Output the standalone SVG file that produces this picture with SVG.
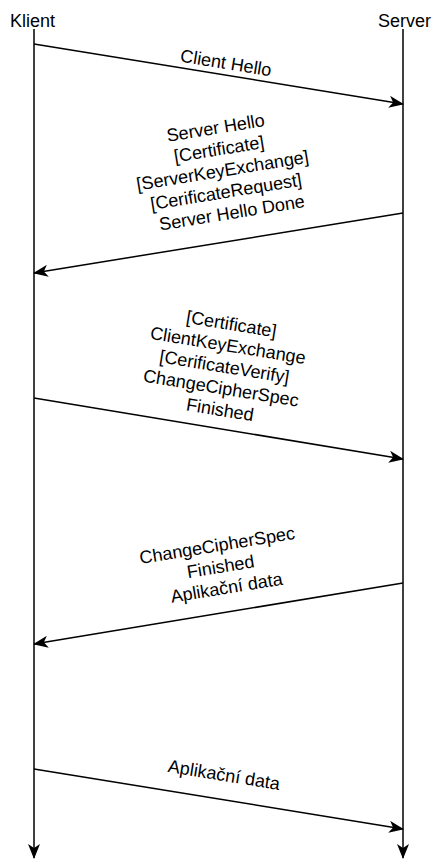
<svg xmlns="http://www.w3.org/2000/svg" width="432" height="859" viewBox="0 0 432 859">
<style>
.lbl{font-family:"Liberation Sans",Arial,Helvetica,sans-serif;font-size:18px;fill:#000}
.mid{text-anchor:middle}
.ln{stroke:#000;stroke-width:1.5;fill:none}
</style>
<defs>
<marker id="ah" markerUnits="userSpaceOnUse" markerWidth="15" markerHeight="12" viewBox="0 0 15 12" refX="14" refY="6" orient="auto">
<path d="M0,0 L15,6 L0,12 L4,6 z" fill="#000"/>
</marker>
</defs>
<rect width="432" height="859" fill="#fff"/>
<g id="klient">
<text class="lbl" x="10" y="27">Klient</text>
</g>
<g id="server">
<text class="lbl" x="431" y="27" text-anchor="end">Server</text>
</g>
<g id="connectors">
<line class="ln" x1="34" y1="29" x2="34" y2="858" marker-end="url(#ah)"/>
<line class="ln" x1="403" y1="29" x2="403" y2="858" marker-end="url(#ah)"/>
<line class="ln" x1="34" y1="44" x2="403" y2="104" marker-end="url(#ah)"/>
<line class="ln" x1="403" y1="213" x2="34" y2="273" marker-end="url(#ah)"/>
<line class="ln" x1="34" y1="398" x2="403" y2="459" marker-end="url(#ah)"/>
<line class="ln" x1="403" y1="583" x2="34" y2="644" marker-end="url(#ah)"/>
<line class="ln" x1="34" y1="769" x2="403" y2="829" marker-end="url(#ah)"/>
</g>
<g id="label1">
<text class="lbl mid" transform="rotate(9.24 226 63)" x="226" y="69">Client Hello</text>
</g>
<g id="label2">
<text class="lbl mid" transform="rotate(-9.24 225 170)">
<tspan x="225" y="133">Server Hello</tspan>
<tspan x="225" y="154.6">[Certificate]</tspan>
<tspan x="225" y="176.2">[ServerKeyExchange]</tspan>
<tspan x="225" y="197.8">[CerificateRequest]</tspan>
<tspan x="225" y="219.4">Server Hello Done</tspan>
</text>
</g>
<g id="label3">
<text class="lbl mid" transform="rotate(9.24 227 367)">
<tspan x="227" y="330">[Certificate]</tspan>
<tspan x="227" y="351.6">ClientKeyExchange</tspan>
<tspan x="227" y="373.2">[CerificateVerify]</tspan>
<tspan x="227" y="394.8">ChangeCipherSpec</tspan>
<tspan x="227" y="416.4">Finished</tspan>
</text>
</g>
<g id="label4">
<text class="lbl mid" transform="rotate(-9.24 223 566)">
<tspan x="223" y="550.8">ChangeCipherSpec</tspan>
<tspan x="223" y="572.4">Finished</tspan>
<tspan x="223" y="594">Aplikační data</tspan>
</text>
</g>
<g id="label5">
<text class="lbl mid" transform="rotate(9.24 224 775)" x="224" y="781">Aplikační data</text>
</g>
</svg>
